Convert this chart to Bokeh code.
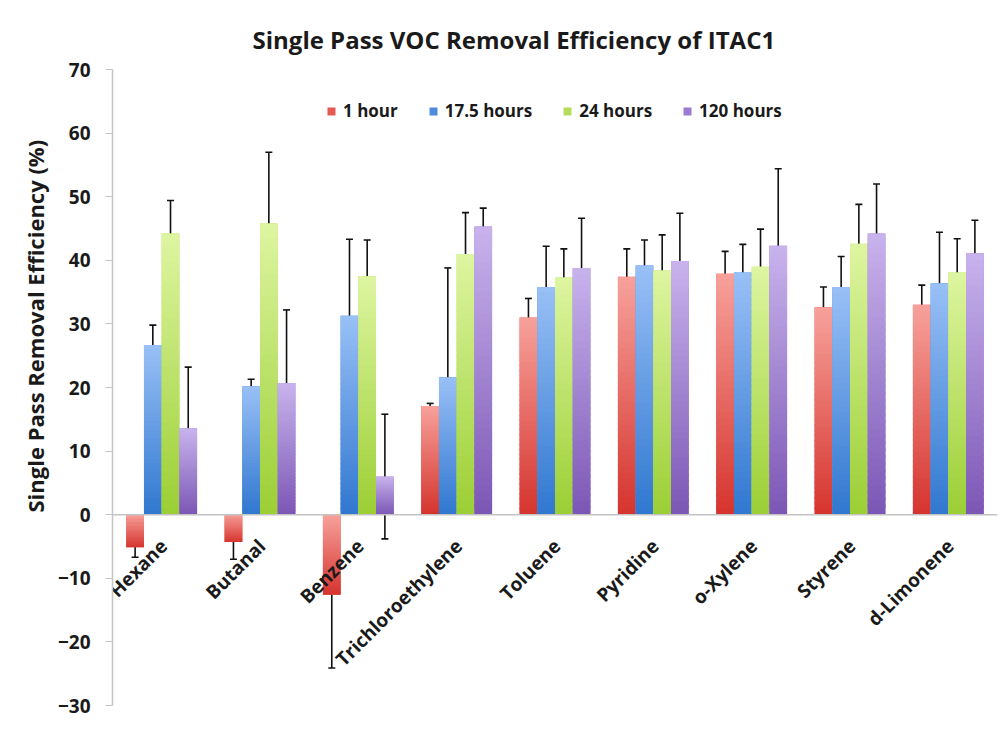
import numpy as np
from bokeh.plotting import figure
from bokeh.models import (ColumnDataSource, FactorRange, FixedTicker, Whisker, TeeHead,
                          Legend, LegendItem, Span, Title)
from bokeh.transform import dodge
from bokeh.core.properties import value
from bokeh.embed import file_html
from bokeh.resources import INLINE

# ---------------- data ----------------
categories = ["Hexane", "Butanal", "Benzene", "Trichloroethylene", "Toluene",
              "Pyridine", "o-Xylene", "Styrene", "d-Limonene"]
series_names = ["1 hour", "17.5 hours", "24 hours", "120 hours"]

h1 = [-5.1, -4.3, -12.6, 17.1, 31.0, 37.4, 37.9, 32.6, 33.0]
h1_err = [1.6, 2.7, 11.5, 0.4, 3.0, 4.4, 3.5, 3.2, 3.1]
h17 = [26.7, 20.2, 31.3, 21.6, 35.8, 39.2, 38.1, 35.8, 36.4]
h17_err = [3.1, 1.1, 12.0, 17.2, 6.4, 4.0, 4.4, 4.8, 8.0]
h24 = [44.2, 45.8, 37.5, 41.0, 37.3, 38.4, 39.0, 42.6, 38.1]
h24_err = [5.2, 11.2, 5.7, 6.5, 4.5, 5.6, 5.9, 6.2, 5.3]
h120 = [13.6, 20.7, 6.0, 45.3, 38.8, 39.9, 42.3, 44.2, 41.1]
h120_err = [9.6, 11.5, 9.8, 2.9, 7.8, 7.5, 12.1, 7.8, 5.2]

y_ticks = [-30, -20, -10, 0, 10, 20, 30, 40, 50, 60, 70]

series_values = [h1, h17, h24, h120]
series_errors = [h1_err, h17_err, h24_err, h120_err]

# ---------------- style ----------------
FONT = "Open Sans"
offsets = [-0.27, -0.09, 0.09, 0.27]
BAR_W = 0.18
mid_colors = ["#E55A55", "#4F8BDB", "#B2DC5A", "#9A7BD0"]
dark_colors = ["#D6352F", "#3178D0", "#9CCF36", "#7C58B6"]
light_colors = ["#F7A09A", "#98BFF6", "#DDF5A0", "#C8B2EC"]


def hex2rgb(h):
    h = h.lstrip("#")
    return np.array([int(h[i:i + 2], 16) for i in (0, 2, 4)], dtype=float)


def mix(c1, c2, t):
    c = hex2rgb(c1) * (1 - t) + hex2rgb(c2) * t
    return "#%02x%02x%02x" % tuple(int(round(x)) for x in c)


p = figure(x_range=FactorRange(factors=categories, range_padding=0),
           y_range=(-30, 70), width=998, height=725,
           output_backend="svg", toolbar_location=None, x_axis_location=None,
           min_border_left=112, min_border_right=1, min_border_top=69,
           min_border_bottom=20)
p.outline_line_color = None
p.xgrid.grid_line_color = None
p.ygrid.grid_line_color = None
p.background_fill_color = "white"
p.border_fill_color = "white"

# title
p.title.text = "Single Pass  VOC Removal Efficiency of ITAC1"
p.title.align = "left"
p.title.offset = 140
p.title.text_font = FONT
p.title.text_font_size = "24px"
p.title.text_font_style = "bold"
p.title.text_color = "#1a1a1a"
p.title.standoff = 28

# y label as a left title (offset so it sits like the reference)
p.add_layout(Title(text="Single Pass Removal Efficiency (%)", align="left", offset=193,
                   text_font=FONT, text_font_size="22px", text_font_style="bold",
                   text_color="#1a1a1a"), "left")

# y axis
yax = p.yaxis[0]
yax.ticker = FixedTicker(ticks=y_ticks)
yax.axis_line_color = "#C4C4C4"
yax.axis_line_width = 1.5
yax.major_tick_line_color = "#C4C4C4"
yax.major_tick_out = 7
yax.major_tick_in = 0
yax.minor_tick_line_color = None
yax.major_label_standoff = 15
yax.major_label_text_font = FONT
yax.major_label_text_font_size = "19px"
yax.major_label_text_font_style = "bold"
yax.major_label_text_color = "#1a1a1a"

# zero line
p.add_layout(Span(location=0, dimension="width", line_color="#C4C4C4", line_width=1.5))

legend_items = []
N = 40
for si, (vals, errs) in enumerate(zip(series_values, series_errors)):
    v = np.array(vals, dtype=float)
    e = np.array(errs, dtype=float)
    src = ColumnDataSource(dict(cat=categories, v=v, upper=v + e, lower=v - e))
    xs = dodge("cat", offsets[si], range=p.x_range)
    r = p.vbar(x=xs, top="v", bottom=0, width=BAR_W, source=src,
               fill_color=mid_colors[si], line_color=None)
    legend_items.append(LegendItem(label=series_names[si], renderers=[r]))
    # gradient overlay (light at top, dark at bottom)
    lo = np.minimum(0, v)
    hi = np.maximum(0, v)
    for k in range(N):
        b = lo + (hi - lo) * k / N
        t = lo + (hi - lo) * min(1.0, (k + 1.5) / N)
        col = mix(dark_colors[si], light_colors[si], k / (N - 1))
        s2 = ColumnDataSource(dict(cat=categories, b=b, t=t))
        p.vbar(x=dodge("cat", offsets[si], range=p.x_range), top="t", bottom="b",
               width=BAR_W, source=s2, fill_color=col, line_color=None)
    # error bars
    w = Whisker(base=dodge("cat", offsets[si], range=p.x_range), upper="upper",
                lower="lower", source=src, line_color="#111111", line_width=1.6,
                upper_head=TeeHead(size=7, line_color="#111111", line_width=1.6),
                lower_head=TeeHead(size=7, line_color="#111111", line_width=1.6))
    p.add_layout(w)

# category labels rotated
lsrc = ColumnDataSource(dict(cat=categories))
p.text(x="cat", y=0, text="cat", source=lsrc, angle=np.pi / 4,
       text_align="right", text_baseline="middle", x_offset=2, y_offset=28,
       text_font=value(FONT), text_font_size="19px", text_font_style="bold",
       text_color="#1a1a1a")

legend = Legend(items=legend_items, orientation="horizontal", location=(214, 583),
                spacing=30, label_standoff=7, glyph_width=10, glyph_height=10,
                padding=0, margin=0, border_line_color=None,
                background_fill_alpha=0, label_text_font=FONT,
                label_text_font_size="17px", label_text_font_style="bold",
                label_text_color="#1a1a1a")
p.add_layout(legend)

open("out.html", "w").write(file_html(p, INLINE))
